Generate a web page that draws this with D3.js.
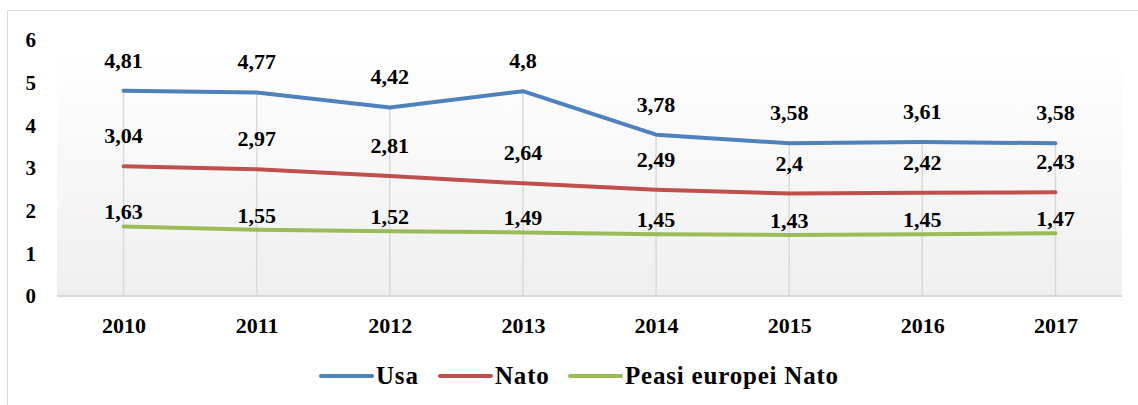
<!DOCTYPE html>
<html>
<head>
<meta charset="utf-8">
<script src="https://cdn.jsdelivr.net/npm/d3@7.9.0/dist/d3.min.js"></script>
<style>
  body { margin: 0; background: #fff; }
  svg text { font-family: 'Liberation Serif', 'Times New Roman', 'DejaVu Serif', serif; font-weight: 700; fill: #000; }
</style>
</head>
<body>
<svg id="chart" width="1138" height="405"></svg>
<script>
// data
const years = ['2010', '2011', '2012', '2013', '2014', '2015', '2016', '2017'];
const usa = [4.81, 4.77, 4.42, 4.8, 3.78, 3.58, 3.61, 3.58];
const nato = [3.04, 2.97, 2.81, 2.64, 2.49, 2.4, 2.42, 2.43];
const peasi = [1.63, 1.55, 1.52, 1.49, 1.45, 1.43, 1.45, 1.47];
const yTicks = [0, 1, 2, 3, 4, 5, 6];

const series = [
  { name: 'Usa', values: usa, color: '#4F81BD', dy: -23 },
  { name: 'Nato', values: nato, color: '#C0504D', dy: -23 },
  { name: 'Peasi europei Nato', values: peasi, color: '#9BBB59', dy: -7 }
];

const FONT = "'Liberation Serif', 'Times New Roman', 'DejaVu Serif', serif";
const svg = d3.select('#chart');

// outer frame
svg.append('rect')
  .attr('x', 7.5).attr('y', 10.5)
  .attr('width', 1140).attr('height', 400)
  .attr('fill', 'none').attr('stroke', '#d9d9d9');

const x = d3.scalePoint().domain(years).range([57, 1122]).padding(0.5);
const y = d3.scaleLinear().domain([0, 6]).range([296, 40]);

// plot area gradient
const defs = svg.append('defs');
const grad = defs.append('linearGradient').attr('id', 'bg')
  .attr('x1', 0).attr('y1', 0).attr('x2', 0).attr('y2', 1);
grad.append('stop').attr('offset', '0%').attr('stop-color', '#ffffff');
grad.append('stop').attr('offset', '100%').attr('stop-color', '#efefef');

svg.append('rect')
  .attr('x', 57).attr('y', y(6) + 10)
  .attr('width', 1122 - 57).attr('height', y(0) - y(6) - 10)
  .attr('fill', 'url(#bg)');

// drop lines
svg.append('g').selectAll('line')
  .data(years)
  .join('line')
  .attr('x1', d => x(d)).attr('x2', d => x(d))
  .attr('y1', (d, i) => y(d3.max(series, s => s.values[i])))
  .attr('y2', y(0))
  .attr('stroke', '#d9d9d9').attr('stroke-width', 1.5);

// x axis
const xAxis = svg.append('g')
  .attr('transform', `translate(0,${y(0)})`)
  .call(d3.axisBottom(x).tickSize(0).tickPadding(21))
  .attr('font-family', FONT);
xAxis.select('.domain').attr('stroke', '#d9d9d9').attr('stroke-width', 2)
  .attr('d', 'M57,0H1122');
xAxis.selectAll('text').attr('font-size', 22).attr('font-family', FONT);

// y axis (labels only)
const yAxis = svg.append('g')
  .attr('transform', 'translate(36,0)')
  .call(d3.axisLeft(y).tickValues(yTicks).tickFormat(d3.format('d')).tickSize(0).tickPadding(0))
  .attr('font-family', FONT);
yAxis.select('.domain').remove();
yAxis.selectAll('text').attr('font-size', 21).attr('font-family', FONT);

// lines
const line = d3.line()
  .x((d, i) => x(years[i]))
  .y(d => y(d));

series.forEach(s => {
  svg.append('path')
    .datum(s.values)
    .attr('d', line)
    .attr('fill', 'none')
    .attr('stroke', s.color)
    .attr('stroke-width', 4)
    .attr('stroke-linecap', 'round')
    .attr('stroke-linejoin', 'round');
});

// data labels
const fmt = v => String(v).replace('.', ',');
series.forEach(s => {
  svg.append('g').selectAll('text')
    .data(s.values)
    .join('text')
    .attr('x', (d, i) => x(years[i]))
    .attr('y', d => y(d) + s.dy)
    .attr('text-anchor', 'middle')
    .attr('font-family', FONT)
    .attr('font-size', 22)
    .text(fmt);
});

// legend
const legendX = [321, 440, 570];
const legend = svg.append('g');
series.forEach((s, i) => {
  legend.append('line')
    .attr('x1', legendX[i]).attr('x2', legendX[i] + 51)
    .attr('y1', 376).attr('y2', 376)
    .attr('stroke', s.color).attr('stroke-width', 4)
    .attr('stroke-linecap', 'round');
  legend.append('text')
    .attr('x', legendX[i] + 55).attr('y', 384)
    .attr('font-family', FONT)
    .attr('font-size', 25)
    .attr('letter-spacing', 0.8)
    .text(s.name);
});
</script>
</body>
</html>
